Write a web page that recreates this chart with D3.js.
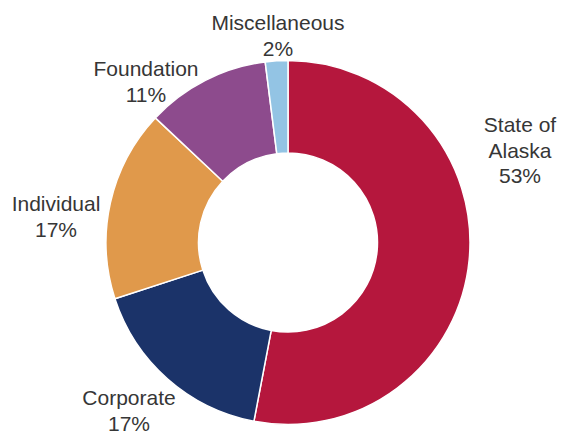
<!DOCTYPE html>
<html>
<head>
<meta charset="utf-8">
<script src="https://cdn.jsdelivr.net/npm/d3@7"></script>
<style>
  body { margin: 0; background: #fff; }
  svg { display: block; }
  text { font-family: "Liberation Sans", Arial, sans-serif; font-size: 21px; fill: #363636; }
</style>
</head>
<body>
<div id="chart"></div>
<script>
// Funding sources, share of total (%)
const categories = ["State of Alaska", "Corporate", "Individual", "Foundation", "Miscellaneous"];
const shares = [53, 17, 17, 11, 2];
const colors = ["#b5173d", "#1b3369", "#e0994b", "#8d4b8d", "#93c4e4"];
// label lines shown next to each slice
const labelLines = [
  ["State of", "Alaska", "53%"],
  ["Corporate", "17%"],
  ["Individual", "17%"],
  ["Foundation", "11%"],
  ["Miscellaneous", "2%"]
];

const width = 561;
const height = 434;
const cx = 288, cy = 242.5;
const outerR = 182, innerR = 89.5;
const lineH = 25.5;

// where each label block sits (text centre x, first baseline y)
const labelPos = {
  "State of Alaska": [520, 132],
  "Corporate": [129, 405],
  "Individual": [56, 211],
  "Foundation": [146, 76],
  "Miscellaneous": [278, 30]
};

const svg = d3.select("#chart")
  .append("svg")
  .attr("width", width)
  .attr("height", height)
  .attr("viewBox", [0, 0, width, height]);

const data = categories.map((name, i) => ({ name, value: shares[i], color: colors[i], lines: labelLines[i] }));

const pie = d3.pie()
  .sort(null)
  .value((d) => d.value);

const arc = d3.arc()
  .innerRadius(innerR)
  .outerRadius(outerR);

const g = svg.append("g")
  .attr("transform", `translate(${cx}, ${cy})`);

g.selectAll("path")
  .data(pie(data))
  .join("path")
  .attr("d", arc)
  .attr("fill", (d) => d.data.color)
  .attr("stroke", "#fff")
  .attr("stroke-width", 1.5)
  .attr("stroke-linejoin", "round");

// labels
const labels = svg.append("g")
  .selectAll("text")
  .data(data)
  .join("text")
  .attr("text-anchor", "middle")
  .attr("x", (d) => labelPos[d.name][0])
  .attr("y", (d) => labelPos[d.name][1]);

labels.selectAll("tspan")
  .data((d) => d.lines.map((t) => ({ t, x: labelPos[d.name][0] })))
  .join("tspan")
  .attr("x", (d) => d.x)
  .attr("dy", (d, i) => (i === 0 ? 0 : lineH))
  .text((d) => d.t);
</script>
</body>
</html>
